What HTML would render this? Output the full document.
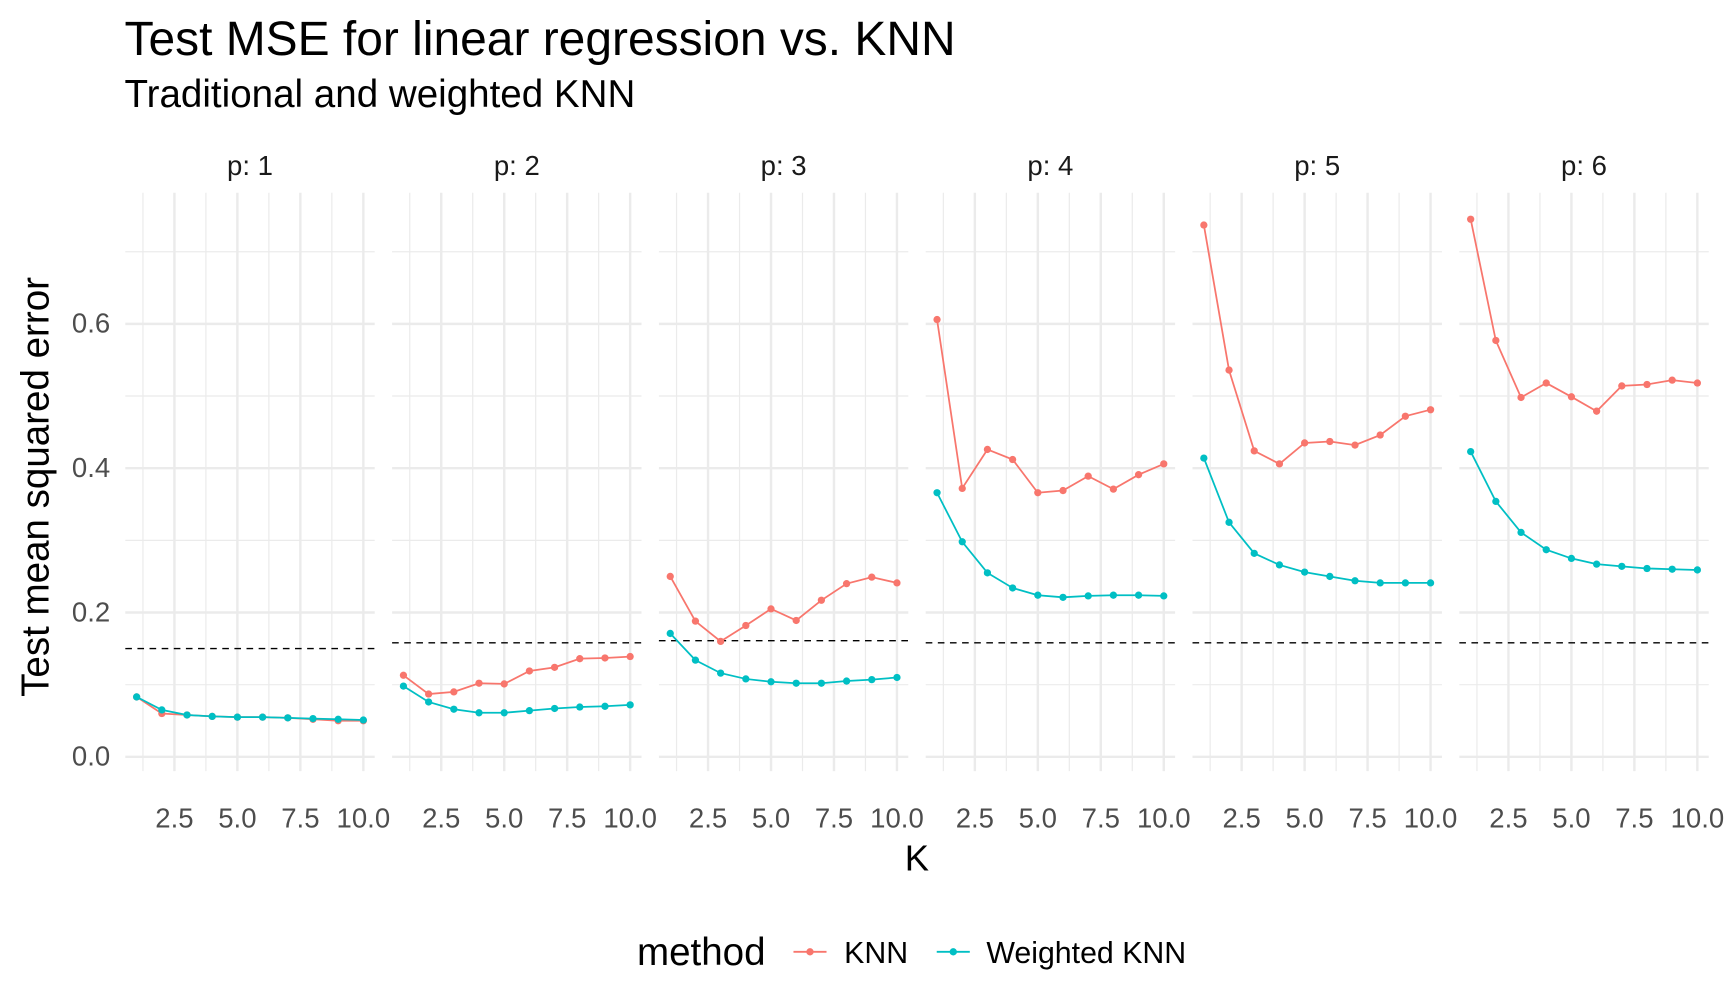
<!DOCTYPE html>
<html><head><meta charset="utf-8"><style>
html,body{margin:0;padding:0;background:#fff;}
svg{display:block;font-family:"Liberation Sans",Arial,sans-serif;}
</style></head><body>
<svg id="chart" width="1728" height="1008" viewBox="0 0 1568 915" preserveAspectRatio="none" xmlns="http://www.w3.org/2000/svg">
<text x="113" y="50" font-size="43.5" fill="#000">Test MSE for linear regression vs. KNN</text>
<text x="113" y="97" font-size="35" fill="#000">Traditional and weighted KNN</text>
<text transform="translate(44,442) rotate(-90)" text-anchor="middle" font-size="35" fill="#000">Test mean squared error</text>
<text x="832" y="790" text-anchor="middle" font-size="33" fill="#000">K</text>
<g id="panels"></g>
<g>
<text x="578" y="876" font-size="35" fill="#000">method</text>
<g>
<line x1="720" y1="864" x2="750" y2="864" stroke="#F8766D" stroke-width="1.6"/>
<circle cx="735" cy="864" r="3.3" fill="#F8766D"/>
<text x="766" y="874" font-size="27.5" fill="#000">KNN</text></g>
<g>
<line x1="850" y1="864" x2="880" y2="864" stroke="#00BFC4" stroke-width="1.6"/>
<circle cx="865" cy="864" r="3.3" fill="#00BFC4"/>
<text x="895" y="874" font-size="27.5" fill="#000">Weighted KNN</text></g>
</g>
</svg>
<script>
const panelLabels = ["p: 1","p: 2","p: 3","p: 4","p: 5","p: 6"];
const kValues = [1,2,3,4,5,6,7,8,9,10];
const knnSeries = [
 [0.083,0.060,0.058,0.056,0.055,0.055,0.054,0.052,0.050,0.050],
 [0.113,0.087,0.090,0.102,0.101,0.119,0.124,0.136,0.137,0.139],
 [0.250,0.188,0.160,0.182,0.205,0.189,0.217,0.240,0.249,0.241],
 [0.606,0.372,0.426,0.412,0.366,0.369,0.389,0.371,0.391,0.406],
 [0.737,0.536,0.424,0.406,0.435,0.437,0.432,0.446,0.472,0.481],
 [0.745,0.577,0.498,0.518,0.499,0.479,0.514,0.516,0.522,0.518]
];
const wknnSeries = [
 [0.083,0.065,0.058,0.056,0.055,0.055,0.054,0.053,0.052,0.051],
 [0.098,0.076,0.066,0.061,0.061,0.064,0.067,0.069,0.070,0.072],
 [0.171,0.134,0.116,0.108,0.104,0.102,0.102,0.105,0.107,0.110],
 [0.366,0.298,0.255,0.234,0.224,0.221,0.223,0.224,0.224,0.223],
 [0.414,0.325,0.282,0.266,0.256,0.250,0.244,0.241,0.241,0.241],
 [0.423,0.354,0.311,0.287,0.275,0.267,0.264,0.261,0.260,0.259]
];
const lmLines = [0.150,0.158,0.161,0.158,0.158,0.158];
const yTicks = [0,0.2,0.4,0.6];
const yTickLabels = ["0.0","0.2","0.4","0.6"];
const yMinor = [0.1,0.3,0.5,0.7];
const xTicks = [2.5,5,7.5,10];
const xTickLabels = ["2.5","5.0","7.5","10.0"];
const xMinor = [1.25,3.75,6.25,8.75];

const NS="http://www.w3.org/2000/svg";
const root=document.getElementById('panels');
const panelLeft0=113.7, panelW=226.3, panelStep=242.1;
const yTop=175, yBot=700;
const kMin=0.55,kMax=10.45;
function yScale(v){return 687-v*655;}
function mk(tag,attrs,parent){const e=document.createElementNS(NS,tag);for(const k in attrs)e.setAttribute(k,attrs[k]);parent.appendChild(e);return e;}

panelLabels.forEach((lab,i)=>{
  const x0=panelLeft0+i*panelStep;
  const xs=k=>x0+(k-kMin)/(kMax-kMin)*panelW;
  const g=mk('g',{},root);
  
  
  yMinor.forEach(v=>{const l=mk('line',{x1:x0,x2:x0+panelW,y1:yScale(v),y2:yScale(v),stroke:'#ebebeb','stroke-width':1.1},g);
    });
  xMinor.forEach(v=>{const l=mk('line',{x1:xs(v),x2:xs(v),y1:yTop,y2:yBot,stroke:'#ebebeb','stroke-width':1.1},g);
    });
  yTicks.forEach(v=>{const l=mk('line',{x1:x0,x2:x0+panelW,y1:yScale(v),y2:yScale(v),stroke:'#ebebeb','stroke-width':2.2},g);
    });
  xTicks.forEach((v,j)=>{const l=mk('line',{x1:xs(v),x2:xs(v),y1:yTop,y2:yBot,stroke:'#ebebeb','stroke-width':2.2},g);
    
    const t=mk('text',{x:xs(v),y:751,'text-anchor':'middle','font-size':25,fill:'#4d4d4d'},g);t.textContent=xTickLabels[j];
    });
  const st=mk('text',{x:x0+panelW/2,y:159,'text-anchor':'middle','font-size':25,fill:'#1a1a1a'},g);st.textContent=lab;
  
  const d=mk('line',{x1:x0,x2:x0+panelW,y1:yScale(lmLines[i]),y2:yScale(lmLines[i]),stroke:'#000','stroke-width':1.2,'stroke-dasharray':'6,5'},g);
  
  [[knnSeries[i],'#F8766D','knn'],[wknnSeries[i],'#00BFC4','weighted-knn']].forEach(([vals,col,nm])=>{
    const pts=vals.map((v,j)=>xs(kValues[j]).toFixed(1)+','+yScale(v).toFixed(1)).join(' ');
    const pl=mk('polyline',{points:pts,fill:'none',stroke:col,'stroke-width':1.6},g);
    
    vals.forEach((v,j)=>{const c=mk('circle',{cx:xs(kValues[j]),cy:yScale(v),r:3.3,fill:col},g);
      });
  });
});
yTicks.forEach((v,j)=>{const t=mk('text',{x:100,y:yScale(v)+8,'text-anchor':'end','font-size':25,fill:'#4d4d4d'},root);t.textContent=yTickLabels[j];
  });
</script>
</body></html>
